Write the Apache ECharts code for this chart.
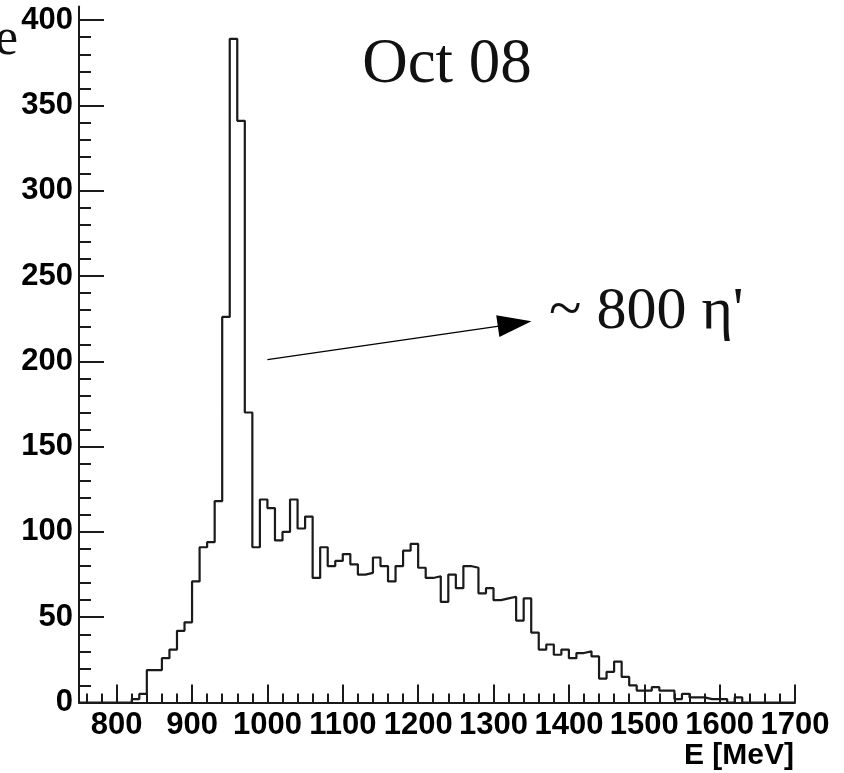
<!DOCTYPE html>
<html>
<head>
<meta charset="utf-8">
<script src="https://cdn.jsdelivr.net/npm/echarts@6/dist/echarts.min.js"></script>
<style>
html,body{margin:0;padding:0;background:#fff;}
#chart{width:844px;height:773px;}
</style>
</head>
<body>
<div id="chart"></div>
<script>
// Histogram: 10 MeV bins starting at 750 MeV
const binMin = 750;
const binWidth = 10;
const xMax = 1700;
const counts = [
  0, 0, 0, 0, 0, 0, 0, 2, 5, 19,          // 750-840
  19, 26, 31, 42, 47, 71, 91, 94, 118, 226, // 850-940
  389, 341, 170, 91, 119, 114, 95, 100, 119, 102, // 950-1040
  109, 73, 91, 80, 83, 87, 81, 75, 76, 85,  // 1050-1140
  80, 71, 80, 89, 93, 79, 73, 74, 59, 75,   // 1150-1240
  67, 80, 79, 64, 67, 60, 61, 62, 48, 61,   // 1250-1340
  41, 31, 34, 28, 31, 26, 29, 30, 27, 14,   // 1350-1440
  18, 24, 15, 10, 7, 7, 9, 7, 7, 2,         // 1450-1540
  5, 3, 3, 2, 2, 2, 0, 3, 0, 0,             // 1550-1640
  0, 0, 0, 0, 0, 0                          // 1650-1700
];
const xMajorTicks = [800, 900, 1000, 1100, 1200, 1300, 1400, 1500, 1600, 1700];
const xMinorTicks = [760, 780, 820, 840, 860, 880, 920, 940, 960, 980, 1020, 1040, 1060, 1080,
  1120, 1140, 1160, 1180, 1220, 1240, 1260, 1280, 1320, 1340, 1360, 1380, 1420, 1440, 1460, 1480,
  1520, 1540, 1560, 1580, 1620, 1640, 1660, 1680];
const yMajorTicks = [0, 50, 100, 150, 200, 250, 300, 350, 400];
const yMinorTicks = [10, 20, 30, 40, 60, 70, 80, 90, 110, 120, 130, 140, 160, 170, 180, 190,
  210, 220, 230, 240, 260, 270, 280, 290, 310, 320, 330, 340, 360, 370, 380, 390];
const yMax = 408;
const arrowFrom = [1000, 201];
const arrowTo = [1328, 222];
const titleText = 'Oct 08';
const annotText = '~ 800 η\'';
const xTitle = 'E [MeV]';

const lineColor = '#1a1a1a';
const histData = counts.map((v, i) => [binMin + i * binWidth, v]);
histData.push([xMax, 0]);

const chart = echarts.init(document.getElementById('chart'), null, {renderer: 'canvas'});
const labelFont = {fontFamily: '"Liberation Sans", Arial, sans-serif', fontWeight: 'bold', fontSize: 31, color: '#000'};
const plain = v => String(v);

chart.setOption({
  animation: false,
  backgroundColor: '#fff',
  grid: {left: 79, right: 49, top: 6.5, bottom: 70.5, containLabel: false},
  xAxis: [
    {
      type: 'value', min: binMin, max: xMax, position: 'bottom',
      axisLine: {show: true, onZero: false, lineStyle: {color: lineColor, width: 2}},
      axisTick: {show: true, inside: true, length: 18, customValues: xMajorTicks, lineStyle: {color: lineColor, width: 2}},
      axisLabel: Object.assign({show: true, margin: 7, customValues: xMajorTicks, formatter: plain, hideOverlap: false}, labelFont),
      splitLine: {show: false}
    },
    {
      type: 'value', min: binMin, max: xMax, position: 'bottom', gridIndex: 0,
      axisLine: {show: false, onZero: false},
      axisTick: {show: true, inside: true, length: 9, customValues: xMinorTicks, lineStyle: {color: lineColor, width: 2}},
      axisLabel: {show: false},
      splitLine: {show: false}
    }
  ],
  yAxis: [
    {
      type: 'value', min: 0, max: yMax, position: 'left',
      axisLine: {show: true, onZero: false, lineStyle: {color: lineColor, width: 2}},
      axisTick: {show: true, inside: true, length: 25, customValues: yMajorTicks, lineStyle: {color: lineColor, width: 2}},
      axisLabel: Object.assign({show: true, margin: 6, customValues: yMajorTicks, formatter: plain}, labelFont),
      splitLine: {show: false}
    },
    {
      type: 'value', min: 0, max: yMax, position: 'left', gridIndex: 0,
      axisLine: {show: false, onZero: false},
      axisTick: {show: true, inside: true, length: 12, customValues: yMinorTicks, lineStyle: {color: lineColor, width: 2}},
      axisLabel: {show: false},
      splitLine: {show: false}
    }
  ],
  series: [
    {
      type: 'line', xAxisIndex: 0, yAxisIndex: 0,
      step: 'end', symbol: 'none', clip: false,
      data: histData,
      lineStyle: {color: lineColor, width: 2.2},
      markLine: {
        silent: true,
        symbol: ['none', 'triangle'],
        symbolSize: [22, 34],
        lineStyle: {color: '#000', width: 1.3, type: 'solid'},
        itemStyle: {color: '#000'},
        label: {show: false},
        data: [[{coord: arrowFrom}, {coord: arrowTo}]]
      }
    }
  ],
  graphic: [
    {type: 'text', x: 447, y: 65, style: {text: titleText, fontFamily: '"Liberation Serif", "Times New Roman", serif', fontSize: 63, fill: '#111', textAlign: 'center', textVerticalAlign: 'middle'}},
    {type: 'text', x: 549, y: 312, style: {text: annotText, fontFamily: '"Liberation Serif", "Times New Roman", serif', fontSize: 60, fill: '#111', textAlign: 'left', textVerticalAlign: 'middle'}},
    {type: 'text', x: 18, y: 40, style: {text: 'e', fontFamily: '"Liberation Serif", "Times New Roman", serif', fontSize: 52, fill: '#111', textAlign: 'right', textVerticalAlign: 'middle'}},
    {type: 'text', x: 794, y: 756, style: {text: xTitle, fontFamily: '"Liberation Sans", Arial, sans-serif', fontWeight: 'bold', fontSize: 30, fill: '#000', textAlign: 'right', textVerticalAlign: 'middle'}}
  ]
});
</script>
</body>
</html>
